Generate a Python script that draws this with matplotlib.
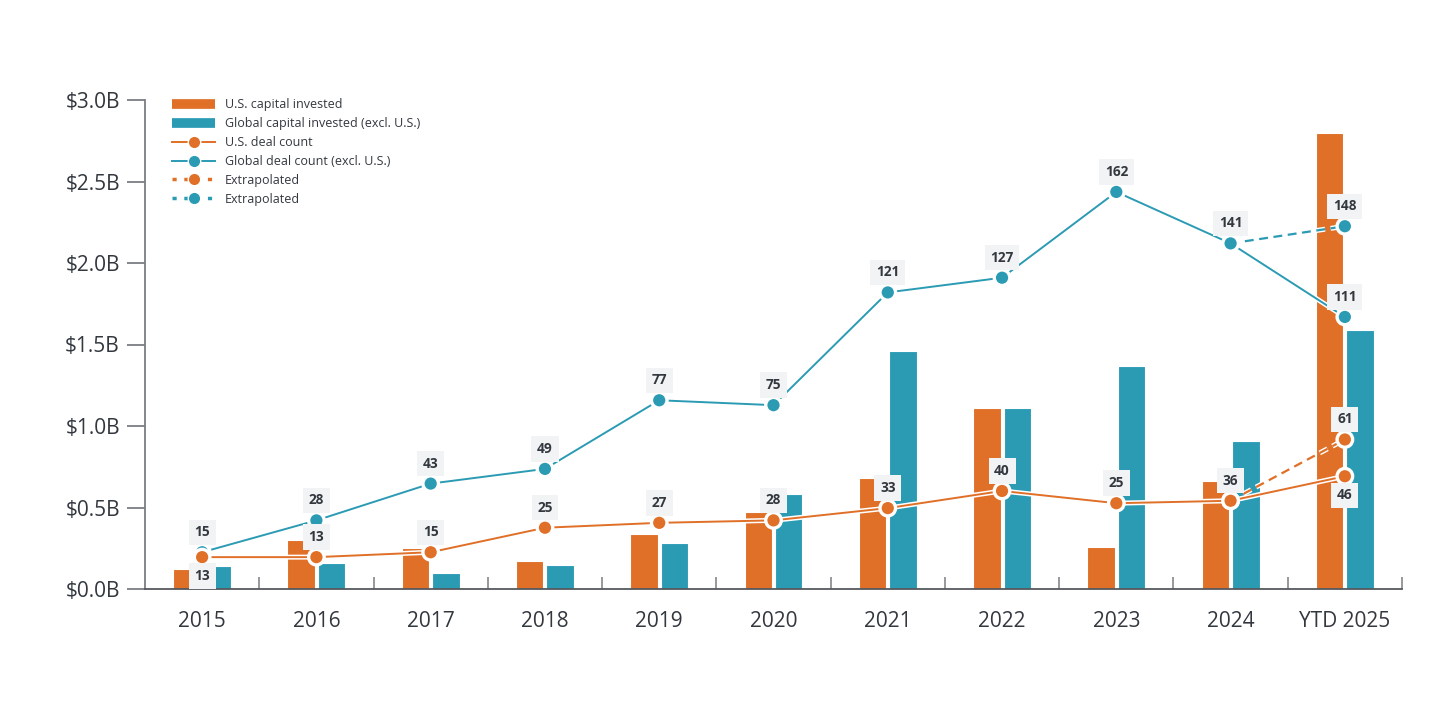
import numpy as np
import matplotlib
matplotlib.use("Agg")
import matplotlib.pyplot as plt
import matplotlib.patheffects as pe
from matplotlib.lines import Line2D
from matplotlib.ticker import FixedLocator

plt.rcParams['font.family'] = ['Open Sans', 'DejaVu Sans']

ORANGE = "#E06F27"
TEAL = "#2B9BB4"
TXT = "#33383f"
AXC = "#7a7d82"

# ===== data =====
years = ["2015", "2016", "2017", "2018", "2019", "2020", "2021", "2022", "2023", "2024", "YTD 2025"]
us_cap = [0.12, 0.30, 0.25, 0.17, 0.34, 0.47, 0.68, 1.11, 0.26, 0.66, 2.80]       # $B
gl_cap = [0.14, 0.16, 0.10, 0.15, 0.28, 0.58, 1.46, 1.11, 1.37, 0.91, 1.59]       # $B
us_deals = [13, 13, 15, 25, 27, 28, 33, 40, 25, 36, 46]          # labels
us_deals_drawn = [13, 13, 15, 25, 27, 28, 33, 40, 35, 36, 46]    # where the points sit in the source
gl_deals = [15, 28, 43, 49, 77, 75, 121, 127, 162, 141, 111]
us_extrap = [36, 61]     # 2024 -> YTD 2025
gl_extrap = [141, 148]
us_below = [0, 10]       # indexes whose U.S. label sits under the point

x = np.arange(len(years))

fig = plt.figure(figsize=(14.4, 7.14), dpi=100)
ax = fig.add_axes([145/1440, 1-589/714, (1402-145)/1440, (589-100)/714])
ax2 = ax.twinx()

# --- bars ---
bw = 0.24
ax.bar(x - 0.133, us_cap, width=bw, color=ORANGE, edgecolor="white", lw=0.8, zorder=2)
ax.bar(x + 0.133, gl_cap, width=bw, color=TEAL, edgecolor="white", lw=0.8, zorder=2)

# --- deal count lines ---
halo = [pe.Stroke(linewidth=3.6, foreground="white"), pe.Normal()]
mk = dict(marker="o", markersize=10, markeredgecolor="white", markeredgewidth=1.2)
ax2.plot(x[-2:], gl_extrap, color=TEAL, lw=1.6, ls=(0, (4, 2.5)), path_effects=halo, **mk, zorder=3)
ax2.plot(x[-2:], us_extrap, color=ORANGE, lw=1.6, ls=(0, (4, 2.5)), path_effects=halo, **mk, zorder=3)
ax2.plot(x, gl_deals, color=TEAL, lw=1.4, path_effects=halo, **mk, zorder=4)
ax2.plot(x, us_deals_drawn, color=ORANGE, lw=1.4, path_effects=halo, **mk, zorder=4)

box = dict(boxstyle="square,pad=0.42", facecolor="#f2f3f5", edgecolor="none")
def lab(xi, yv, txt, dy):
    ax2.annotate(f"{txt}", (xi, yv), xytext=(0, dy), textcoords="offset pixels",
                 ha="center", va="center", fontsize=9.8, fontweight="bold",
                 color=TXT, bbox=box, zorder=6)

for i, v in enumerate(gl_deals):
    lab(i, v, v, 20)
lab(x[-1], gl_extrap[-1], gl_extrap[-1], 20)
for i, v in enumerate(us_deals):
    lab(i, us_deals_drawn[i], v, -19 if i in us_below else 20)
lab(x[-1], us_extrap[-1], us_extrap[-1], 20)

# --- axes ---
ax.set_xlim(-0.5, 10.5)
ax.set_ylim(0, 3.0)
ax2.set_ylim(0, 199.5)
ax2.axis("off")

ax.set_yticks([0, 0.5, 1.0, 1.5, 2.0, 2.5, 3.0])
ax.set_yticklabels(["$0.0B", "$0.5B", "$1.0B", "$1.5B", "$2.0B", "$2.5B", "$3.0B"])
ax.set_xticks(x)
ax.set_xticklabels(years)
ax.xaxis.set_minor_locator(FixedLocator(np.arange(0.5, 10.6, 1.0)))
ax.tick_params(axis="x", which="major", length=0, pad=15.5, labelsize=15, labelcolor=TXT)
ax.tick_params(axis="x", which="minor", direction="in", length=8.5, width=1.1, color=AXC)
ax.tick_params(axis="y", length=13, width=1.3, color=AXC, pad=5, labelsize=15, labelcolor=TXT)
for s in ("top", "right"):
    ax.spines[s].set_visible(False)
ax.spines["left"].set_color(AXC)
ax.spines["bottom"].set_color("#55585d")
ax.spines["left"].set_linewidth(1.3)
ax.spines["bottom"].set_linewidth(1.3)

# --- legend ---
handles = [
    Line2D([], [], color=ORANGE, lw=7, solid_capstyle="butt"),
    Line2D([], [], color=TEAL, lw=7, solid_capstyle="butt"),
    Line2D([], [], color=ORANGE, lw=1.4, marker="o", markersize=9, markeredgecolor="white"),
    Line2D([], [], color=TEAL, lw=1.4, marker="o", markersize=9, markeredgecolor="white"),
    Line2D([], [], color=ORANGE, lw=2.5, ls=(0, (1.2, 2.2)), marker="o", markersize=9, markeredgecolor="white"),
    Line2D([], [], color=TEAL, lw=2.5, ls=(0, (1.2, 2.2)), marker="o", markersize=9, markeredgecolor="white"),
]
labels = ["U.S. capital invested", "Global capital invested (excl. U.S.)", "U.S. deal count",
          "Global deal count (excl. U.S.)", "Extrapolated", "Extrapolated"]
leg = ax2.legend(handles, labels, loc="upper left", bbox_to_anchor=(166/1440, 1-92/714),
                 bbox_transform=fig.transFigure, frameon=False, fontsize=9,
                 handlelength=3.4, handletextpad=0.8, labelspacing=0.47, borderpad=0)
for t in leg.get_texts():
    t.set_color(TXT)

fig.savefig("out.png", dpi=100, facecolor="white")
